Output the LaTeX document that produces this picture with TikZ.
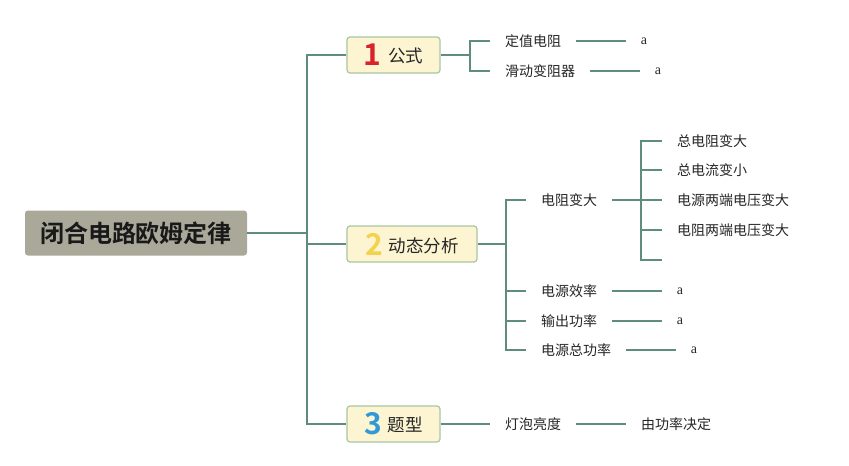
\documentclass[tikz,border=0pt]{standalone}
\usepackage{fontspec}
\setmainfont{Liberation Serif}
\newfontfamily\cjk{Noto Sans CJK SC}
\newfontfamily\cjkb{Noto Sans CJK SC Bold}
\definecolor{lineC}{HTML}{5E8D7F}
\definecolor{rootF}{HTML}{A9A899}
\definecolor{boxF}{HTML}{FDF4D2}
\definecolor{boxD}{HTML}{A7C6A2}
\definecolor{numR}{HTML}{D8232A}
\definecolor{numY}{HTML}{F3D24E}
\definecolor{numB}{HTML}{2E9AD7}
\newcommand{\bignum}[2]{\raisebox{-3pt}{\cjkb\fontsize{30}{30}\selectfont\color{#1}#2}}
\tikzset{
  conn/.style={draw=lineC, line width=1.8pt},
  rootbox/.style={fill=rootF, rounded corners=3pt, minimum width=222pt, minimum height=45pt, inner sep=0pt,
    font=\cjkb\fontsize{24}{26}\selectfont, text=black!90},
  topicbox/.style={fill=boxF, draw=boxD, line width=1.2pt, rounded corners=3pt, minimum height=36pt, inner sep=0pt,
    font=\cjk\fontsize{17.5}{20}\selectfont, text=black!85},
  leaf/.style={anchor=west, inner xsep=15pt, inner ysep=2pt, font=\cjk\fontsize{14}{16}\selectfont, text=black!85},
  aval/.style={inner xsep=15pt, inner ysep=2pt, font=\fontsize{14}{16}\selectfont, text=black!85}
}
\begin{document}
\begin{tikzpicture}[x=1pt,y=-1pt]
\useasboundingbox (0,0) rectangle (849,466);
% root
\node[rootbox] (root) at (136,233) {闭合电路欧姆定律};
% topic boxes
\node[topicbox, minimum width=93pt] (b1) at (393.5,55) {\bignum{numR}{1}\hspace{7pt}公式};
\node[topicbox, minimum width=130pt] (b2) at (412,244) {\bignum{numY}{2}\hspace{6pt}动态分析};
\node[topicbox, minimum width=93pt] (b3) at (393.5,424) {\bignum{numB}{3}\hspace{6pt}题型};
% trunk
\coordinate (tr) at (307,233);
\draw[conn] (root.east) -- (tr);
\draw[conn] (b1.west) -- (b1.west -| tr) -- (b3.west -| tr) -- (b3.west);
\draw[conn] (b2.west -| tr) -- (b2.west);
% branch 1
\node[leaf] (t11) at (490,41) {定值电阻};
\node[leaf] (t12) at (490,71) {滑动变阻器};
\node[aval] (a11) at (644,41) {a};
\node[aval] (a12) at (658,71) {a};
\coordinate (j1) at (470,55);
\draw[conn] (b1.east) -- (j1);
\draw[conn] (t11.west) -- (t11.west -| j1) -- (t12.west -| j1) -- (t12.west);
\draw[conn] (t11.east) -- (a11.west);
\draw[conn] (t12.east) -- (a12.west);
% branch 2
\node[leaf] (t21) at (526,200) {电阻变大};
\node[leaf] (t22) at (526,291) {电源效率};
\node[leaf] (t23) at (526,321) {输出功率};
\node[leaf] (t24) at (526,350) {电源总功率};
\node[aval] (a22) at (680,291) {a};
\node[aval] (a23) at (680,321) {a};
\node[aval] (a24) at (694,350) {a};
\coordinate (j2) at (506,244);
\draw[conn] (b2.east) -- (j2);
\draw[conn] (t21.west) -- (t21.west -| j2) -- (t24.west -| j2) -- (t24.west);
\draw[conn] (t22.west -| j2) -- (t22.west);
\draw[conn] (t23.west -| j2) -- (t23.west);
\draw[conn] (t22.east) -- (a22.west);
\draw[conn] (t23.east) -- (a23.west);
\draw[conn] (t24.east) -- (a24.west);
% sub-branch
\node[leaf] (s1) at (662,141) {总电阻变大};
\node[leaf] (s2) at (662,170) {总电流变小};
\node[leaf] (s3) at (662,200) {电源两端电压变大};
\node[leaf] (s4) at (662,230) {电阻两端电压变大};
\coordinate (s5) at (662,260);
\coordinate (j3) at (641,200);
\draw[conn] (t21.east) -- (j3);
\draw[conn] (s1.west) -- (s1.west -| j3) -- (s5 -| j3) -- (s5);
\draw[conn] (s2.west -| j3) -- (s2.west);
\draw[conn] (s3.west -| j3) -- (s3.west);
\draw[conn] (s4.west -| j3) -- (s4.west);
% branch 3
\node[leaf] (t31) at (490,424) {灯泡亮度};
\node[leaf] (t32) at (626,424) {由功率决定};
\draw[conn] (b3.east) -- (t31.west);
\draw[conn] (t31.east) -- (t32.west);
\end{tikzpicture}
\end{document}
